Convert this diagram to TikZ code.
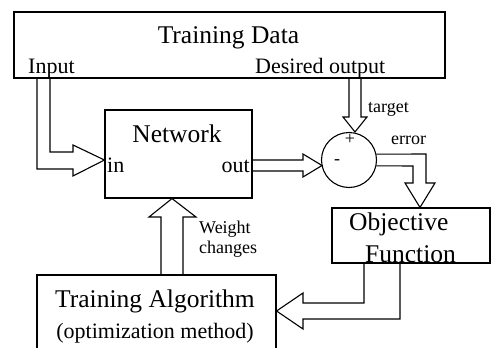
\documentclass[tikz,border=0pt]{standalone}
\usepackage{fontspec}
\setmainfont{Liberation Serif}
\usetikzlibrary{positioning}

\tikzset{
  box/.style={draw, line width=1.1pt, inner sep=0pt},
  blockarrow/.style={draw, line width=1.1pt, line join=miter},
  bigtxt/.style={inner sep=0pt, font=\fontsize{25.5}{28}\selectfont},
  midtxt/.style={inner sep=0pt, font=\fontsize{22}{24}\selectfont},
  smalltxt/.style={inner sep=0pt, font=\fontsize{18}{20}\selectfont}
}

\begin{document}
\begin{tikzpicture}[x=1pt, y=-1pt]
  \useasboundingbox (0,0) rectangle (491,348);
  \clip (0,0) rectangle (491,348);
  % boxes
  \node [box, minimum width=431pt, minimum height=66pt] (data) at (229.5,45) {};
  \node [box, minimum width=147pt, minimum height=88pt] (net)  at (178.5,154) {};
  \node [box, circle, minimum size=55pt] (sum) at (349,160) {};
  \node [box, minimum width=158pt, minimum height=55pt] (obj)  at (411,235.5) {};
  \node [box, minimum width=239pt, minimum height=80pt] (alg)  at (156.5,315) {};
  % texts
  \node [bigtxt, anchor=base] (datalbl) at (228.5,44) {Training Data};
  \node [midtxt, anchor=base west] (inlbl) at (28,73) {Input};
  \node [midtxt, anchor=base west] (deslbl) at (255,73) {Desired output};
  \node [bigtxt, anchor=base] (netlbl) at (177,142) {Network};
  \node [midtxt, anchor=base west] (inport) at (107,172) {in};
  \node [midtxt, anchor=base east] (outport) at (250,172) {out};
  \node [smalltxt] (plus) at (350,139) {+};
  \node [smalltxt] (minus) at (337,162) {-};
  \node [smalltxt, anchor=base west] (tgtlbl) at (368,112) {target};
  \node [smalltxt, anchor=base west] (errlbl) at (391,144) {error};
  \node [bigtxt, anchor=base west] (objlbl1) at (349,230) {Objective};
  \node [bigtxt, anchor=base west] (objlbl2) at (365,262) {Function};
  \node [smalltxt, anchor=base west] (wlbl1) at (199,233) {Weight};
  \node [smalltxt, anchor=base west] (wlbl2) at (199,253) {changes};
  \node [bigtxt, anchor=base] (alglbl1) at (155,307) {Training Algorithm};
  \node [midtxt, anchor=base] (alglbl2) at (155,338) {(optimization method)};
  % hollow arrows
  \path [blockarrow] (data.south -| 37,0) -- (37,169) -- (73,169) -- (73,176)
    -- (net.west |- 0,160) -- (73,145) -- (73,152) -- (50,152) -- (data.south -| 50,0);
  \path [blockarrow] (net.east |- 0,160) -- (303,160) -- (303,154)
    -- (322,165.5) -- (303,177) -- (303,171) -- (net.east |- 0,171);
  \path [blockarrow] (data.south -| 349,0) -- (349,117) -- (343,117)
    -- (sum.north -| 355,0) -- (367,117) -- (361,117) -- (data.south -| 361,0);
  \path [blockarrow] (sum.12.6) -- (426,154) -- (426,183) -- (435,183)
    -- (obj.north -| 420,0) -- (405,183) -- (413,183) -- (413,166) -- (sum.-12.6);
  \path [blockarrow] (obj.south -| 364,0) -- (364,303) -- (303,303) -- (303,293)
    -- (alg.east |- 0,311) -- (303,329) -- (303,319) -- (400,319) -- (obj.south -| 400,0);
  \path [blockarrow] (alg.north -| 161,0) -- (161,217) -- (149,217)
    -- (net.south -| 172,0) -- (196,217) -- (183,217) -- (alg.north -| 183,0);
\end{tikzpicture}
\end{document}
